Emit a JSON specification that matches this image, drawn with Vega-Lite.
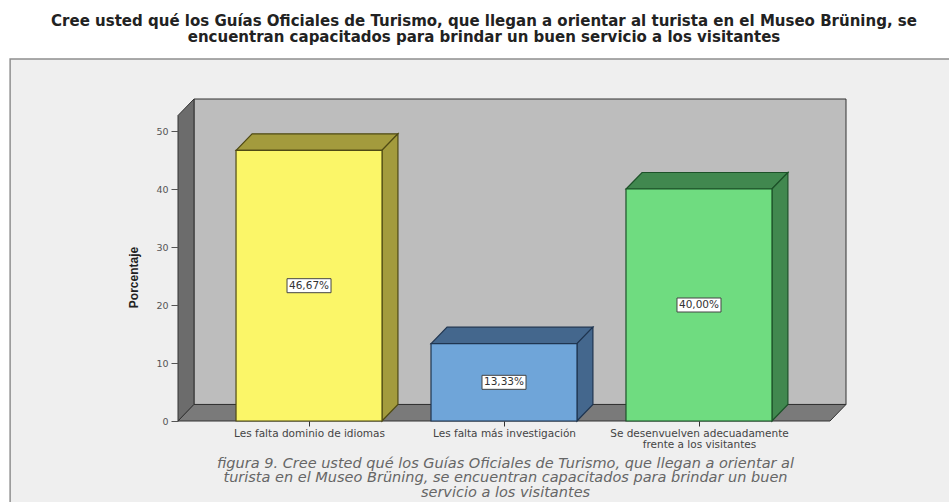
{
  "$schema": "https://vega.github.io/schema/vega-lite/v6.json",
  "width": 668,
  "height": 322,
  "autosize": {"type": "none"},
  "padding": {"left": 178, "top": 99, "right": 103, "bottom": 81},
  "background": "#ffffff",
  "view": {"stroke": null},
  "title": {
    "text": [
      "Cree usted qué los Guías Oficiales de Turismo, que llegan a orientar al turista en el Museo Brüning, se",
      "encuentran capacitados para brindar un buen servicio a los visitantes"
    ],
    "anchor": "middle",
    "frame": "group",
    "dx": -28,
    "offset": 13,
    "font": "DejaVu Sans",
    "fontSize": 15,
    "fontWeight": "bold",
    "lineHeight": 16,
    "limit": 940,
    "color": "#222222"
  },
  "datasets": {
    "barras": [
      {"categoria": "Les falta dominio de idiomas", "posicion": 1, "porcentaje": 46.67, "mitad": 23.33, "etiqueta": "46,67%"},
      {"categoria": "Les falta más investigación", "posicion": 2, "porcentaje": 13.33, "mitad": 6.67, "etiqueta": "13,33%"},
      {"categoria": "Se desenvuelven adecuadamente frente a los visitantes", "posicion": 3, "porcentaje": 40, "mitad": 20, "etiqueta": "40,00%"}
    ],
    "caras": [
      {"categoria": "Les falta dominio de idiomas", "cara": "superior", "eje": 0.626, "bajo": 46.67, "alto": 46.67},
      {"categoria": "Les falta dominio de idiomas", "cara": "superior", "eje": 0.708, "bajo": 46.67, "alto": 49.52},
      {"categoria": "Les falta dominio de idiomas", "cara": "superior", "eje": 1.374, "bajo": 46.67, "alto": 49.52},
      {"categoria": "Les falta dominio de idiomas", "cara": "superior", "eje": 1.456, "bajo": 49.52, "alto": 49.52},
      {"categoria": "Les falta dominio de idiomas", "cara": "lateral", "eje": 1.374, "bajo": 0, "alto": 46.67},
      {"categoria": "Les falta dominio de idiomas", "cara": "lateral", "eje": 1.456, "bajo": 2.85, "alto": 49.52},
      {"categoria": "Les falta más investigación", "cara": "superior", "eje": 1.626, "bajo": 13.33, "alto": 13.33},
      {"categoria": "Les falta más investigación", "cara": "superior", "eje": 1.708, "bajo": 13.33, "alto": 16.18},
      {"categoria": "Les falta más investigación", "cara": "superior", "eje": 2.374, "bajo": 13.33, "alto": 16.18},
      {"categoria": "Les falta más investigación", "cara": "superior", "eje": 2.456, "bajo": 16.18, "alto": 16.18},
      {"categoria": "Les falta más investigación", "cara": "lateral", "eje": 2.374, "bajo": 0, "alto": 13.33},
      {"categoria": "Les falta más investigación", "cara": "lateral", "eje": 2.456, "bajo": 2.85, "alto": 16.18},
      {"categoria": "Se desenvuelven adecuadamente frente a los visitantes", "cara": "superior", "eje": 2.626, "bajo": 40, "alto": 40},
      {"categoria": "Se desenvuelven adecuadamente frente a los visitantes", "cara": "superior", "eje": 2.708, "bajo": 40, "alto": 42.85},
      {"categoria": "Se desenvuelven adecuadamente frente a los visitantes", "cara": "superior", "eje": 3.374, "bajo": 40, "alto": 42.85},
      {"categoria": "Se desenvuelven adecuadamente frente a los visitantes", "cara": "superior", "eje": 3.456, "bajo": 42.85, "alto": 42.85},
      {"categoria": "Se desenvuelven adecuadamente frente a los visitantes", "cara": "lateral", "eje": 3.374, "bajo": 0, "alto": 40},
      {"categoria": "Se desenvuelven adecuadamente frente a los visitantes", "cara": "lateral", "eje": 3.456, "bajo": 2.85, "alto": 42.85}
    ],
    "pared_izquierda": [
      {"eje": 0.328, "bajo": 0, "alto": 52.67},
      {"eje": 0.41, "bajo": 2.85, "alto": 55.52}
    ],
    "suelo": [
      {"eje": 0.328, "bajo": 0, "alto": 0},
      {"eje": 0.41, "bajo": 0, "alto": 2.85},
      {"eje": 3.672, "bajo": 0, "alto": 2.85},
      {"eje": 3.754, "bajo": 2.85, "alto": 2.85}
    ]
  },
  "layer": [
    {
      "description": "Fondo del panel del gráfico",
      "data": {"values": [{"a": -0.533, "b": 4.4, "c": -15, "d": 62.4}]},
      "mark": {"type": "rect", "fill": "#efefef", "stroke": "#8f8f8f", "strokeWidth": 1.5},
      "encoding": {
        "x": {
          "field": "a", "type": "quantitative",
          "scale": {"domain": [0.328, 3.754], "nice": false, "zero": false, "padding": 0},
          "axis": {
            "values": [1, 2, 3],
            "zindex": 1,
            "domain": false,
            "grid": false,
            "tickColor": "#333333",
            "tickSize": 5,
            "labelFont": "DejaVu Sans",
            "labelFontSize": 10.5,
            "labelColor": "#444444",
            "labelPadding": 2,
            "labelLineHeight": 11,
            "labelLimit": 320,
            "labelBaseline": "top",
            "labelFlush": false,
            "labelOverlap": false,
            "labelExpr": "datum.value == 1 ? 'Les falta dominio de idiomas' : datum.value == 2 ? 'Les falta más investigación' : ['Se desenvuelven adecuadamente', 'frente a los visitantes']",
            "title": [
              "figura 9. Cree usted qué los Guías Oficiales de Turismo, que llegan a orientar al",
              "turista en el Museo Brüning, se encuentran capacitados para brindar un buen",
              "servicio a los visitantes"
            ],
            "titleFont": "DejaVu Sans",
            "titleFontSize": 14.5,
            "titleFontStyle": "italic",
            "titleFontWeight": "normal",
            "titleColor": "#666666",
            "titleLineHeight": 14.5,
            "titleLimit": 900,
            "titleX": 327,
            "titleY": 46,
            "titleBaseline": "alphabetic"
          }
        },
        "x2": {"field": "b"},
        "y": {
          "field": "c", "type": "quantitative",
          "scale": {"domain": [0, 55.52], "nice": false, "zero": false, "padding": 0},
          "axis": {
            "values": [0, 10, 20, 30, 40, 50],
            "zindex": 1,
            "domain": false,
            "grid": false,
            "tickColor": "#555555",
            "tickSize": 7,
            "labelFont": "DejaVu Sans",
            "labelFontSize": 9.5,
            "labelColor": "#555555",
            "labelPadding": 3,
            "title": "Porcentaje",
            "titleFont": "Liberation Sans",
            "titleFontSize": 12,
            "titleFontWeight": "bold",
            "titleColor": "#222222",
            "titleX": -38,
            "titleY": 178
          }
        },
        "y2": {"field": "d"}
      }
    },
    {
      "description": "Pared del fondo",
      "data": {"values": [{"a": 0.41, "b": 3.754, "c": 2.85, "d": 55.52}]},
      "mark": {"type": "rect", "fill": "#bdbdbd", "stroke": "#333333", "strokeWidth": 1},
      "encoding": {
        "x": {"field": "a", "type": "quantitative"},
        "x2": {"field": "b"},
        "y": {"field": "c", "type": "quantitative"},
        "y2": {"field": "d"}
      }
    },
    {
      "description": "Pared izquierda",
      "data": {"name": "pared_izquierda"},
      "mark": {"type": "area", "fill": "#6c6c6c", "stroke": "#333333", "strokeWidth": 1, "opacity": 1},
      "encoding": {
        "x": {"field": "eje", "type": "quantitative"},
        "y": {"field": "bajo", "type": "quantitative"},
        "y2": {"field": "alto"}
      }
    },
    {
      "description": "Suelo",
      "data": {"name": "suelo"},
      "mark": {"type": "area", "fill": "#7a7a7a", "stroke": "#333333", "strokeWidth": 1, "opacity": 1},
      "encoding": {
        "x": {"field": "eje", "type": "quantitative"},
        "y": {"field": "bajo", "type": "quantitative"},
        "y2": {"field": "alto"}
      }
    },
    {
      "description": "Caras superior y lateral de las barras",
      "data": {"name": "caras"},
      "mark": {"type": "area", "strokeWidth": 1.2, "opacity": 1},
      "encoding": {
        "x": {"field": "eje", "type": "quantitative"},
        "y": {"field": "bajo", "type": "quantitative"},
        "y2": {"field": "alto"},
        "detail": [{"field": "categoria"}, {"field": "cara"}],
        "fill": {
          "field": "categoria", "type": "nominal", "legend": null,
          "scale": {
            "domain": ["Les falta dominio de idiomas", "Les falta más investigación", "Se desenvuelven adecuadamente frente a los visitantes"],
            "range": ["#a39b3d", "#44678d", "#41884f"]
          }
        },
        "stroke": {
          "field": "categoria", "type": "nominal", "legend": null,
          "scale": {
            "domain": ["Les falta dominio de idiomas", "Les falta más investigación", "Se desenvuelven adecuadamente frente a los visitantes"],
            "range": ["#4f4a14", "#1f3550", "#1d5229"]
          }
        }
      }
    },
    {
      "description": "Cara frontal de las barras",
      "data": {"name": "barras"},
      "mark": {"type": "bar", "width": 146, "orient": "vertical", "strokeWidth": 1.2},
      "encoding": {
        "x": {"field": "posicion", "type": "quantitative"},
        "y": {"field": "porcentaje", "type": "quantitative"},
        "color": {
          "field": "categoria", "type": "nominal", "legend": null,
          "scale": {
            "domain": ["Les falta dominio de idiomas", "Les falta más investigación", "Se desenvuelven adecuadamente frente a los visitantes"],
            "range": ["#fbf668", "#6fa5d9", "#6fdc80"]
          }
        },
        "stroke": {
          "field": "categoria", "type": "nominal", "legend": null,
          "scale": {
            "domain": ["Les falta dominio de idiomas", "Les falta más investigación", "Se desenvuelven adecuadamente frente a los visitantes"],
            "range": ["#4f4a14", "#1f3550", "#1d5229"]
          }
        }
      }
    },
    {
      "description": "Recuadro de la etiqueta de valor",
      "data": {"name": "barras"},
      "mark": {"type": "rect", "width": 44, "height": 14, "fill": "#ffffff", "stroke": "#444444", "strokeWidth": 1},
      "encoding": {
        "x": {"field": "posicion", "type": "quantitative"},
        "y": {"field": "mitad", "type": "quantitative"}
      }
    },
    {
      "description": "Etiqueta de valor",
      "data": {"name": "barras"},
      "mark": {"type": "text", "font": "DejaVu Sans", "fontSize": 10.5, "color": "#333333", "align": "center", "baseline": "middle"},
      "encoding": {
        "x": {"field": "posicion", "type": "quantitative"},
        "y": {"field": "mitad", "type": "quantitative"},
        "text": {"field": "etiqueta"}
      }
    }
  ],
  "resolve": {"scale": {"color": "independent", "fill": "independent", "stroke": "independent"}}
}
